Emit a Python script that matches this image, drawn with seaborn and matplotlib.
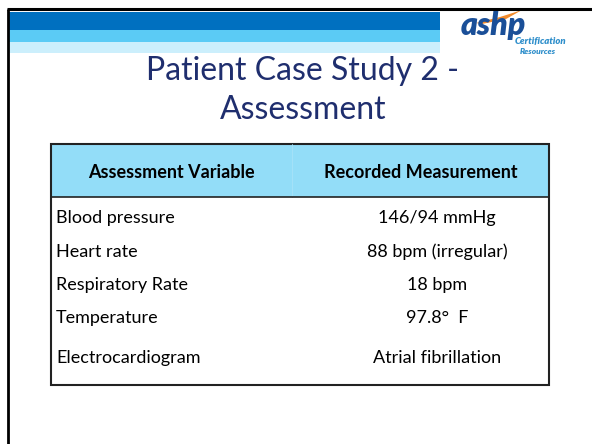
import matplotlib
matplotlib.use("Agg")
import matplotlib.pyplot as plt
import matplotlib.patches as mpatches
import seaborn as sns

# slide content
title_lines = ["Patient Case Study 2 -", "Assessment"]
headers = ["Assessment Variable", "Recorded Measurement"]
variables = ["Blood pressure", "Heart rate", "Respiratory Rate", "Temperature", "Electrocardiogram"]
measurements = ["146/94 mmHg", "88 bpm (irregular)", "18 bpm", "97.8°  F", "Atrial fibrillation"]

sns.set_theme(style="white")
plt.rcParams['font.family'] = ['Lato', 'DejaVu Sans']

fig = plt.figure(figsize=(5.92, 4.44), dpi=100)
ax = fig.add_axes([0, 0, 1, 1])
ax.set_xlim(0, 592)
ax.set_ylim(444, 0)
ax.axis('off')

# banner stripes
for y0, h, c in [(12, 18, '#0070C0'), (30, 12, '#5BCBF5'), (42, 11, '#CCEFFC')]:
    ax.add_patch(mpatches.Rectangle((9, y0), 431, h, color=c, lw=0))

# frame lines
ax.plot([7, 592], [9.5, 9.5], color='black', lw=2.2, solid_capstyle='butt')
ax.plot([8, 8], [9, 444], color='black', lw=2.0, solid_capstyle='butt')

# logo
ax.text(461, 35, "ashp", fontsize=23, fontweight='heavy', fontstyle='italic',
        color='#1A4F98', ha='left', va='baseline')
ax.add_patch(mpatches.Polygon([(476, 23), (500, 17), (522, 10), (506, 19), (482, 24)],
                              closed=True, color='#F08A2C', lw=0))
ax.text(515, 44, "Certification", fontsize=6.8, fontweight='heavy', fontstyle='italic',
        color='#2F8FCB', ha='left', va='baseline')
ax.text(520, 53.5, "Resources", fontsize=6, fontweight='heavy', fontstyle='italic',
        color='#2F8FCB', ha='left', va='baseline')

# title
title_y = [71, 110]
for line, y in zip(title_lines, title_y):
    ax.text(303, y, line, fontsize=23, color='#1F2E6E', ha='center', va='center')

# table
left, right, top, head_bot, bottom, col_split = 51, 549, 144, 197, 385, 292
ax.add_patch(mpatches.Rectangle((left, top), right - left, head_bot - top,
                                color='#93DDF8', lw=0))
ax.plot([col_split, col_split], [top, head_bot], color='#A8E2F8', lw=0.6)
ax.plot([left, right], [head_bot, head_bot], color='#222222', lw=1.2)
ax.add_patch(mpatches.Rectangle((left, top), right - left, bottom - top,
                                fill=False, ec='#222222', lw=1.5))

ax.text((left + col_split) / 2, 172, headers[0], fontsize=13, fontweight='bold',
        color='black', ha='center', va='center')
ax.text((col_split + right) / 2, 172, headers[1], fontsize=13, fontweight='bold',
        color='black', ha='center', va='center')

row_y = [218, 252, 285, 318, 358]
for var, meas, y in zip(variables, measurements, row_y):
    ax.text(56, y, var, fontsize=13, color='black', ha='left', va='center')
    ax.text(437, y, meas, fontsize=13, color='black', ha='center', va='center')

fig.savefig("out.png", dpi=100)
